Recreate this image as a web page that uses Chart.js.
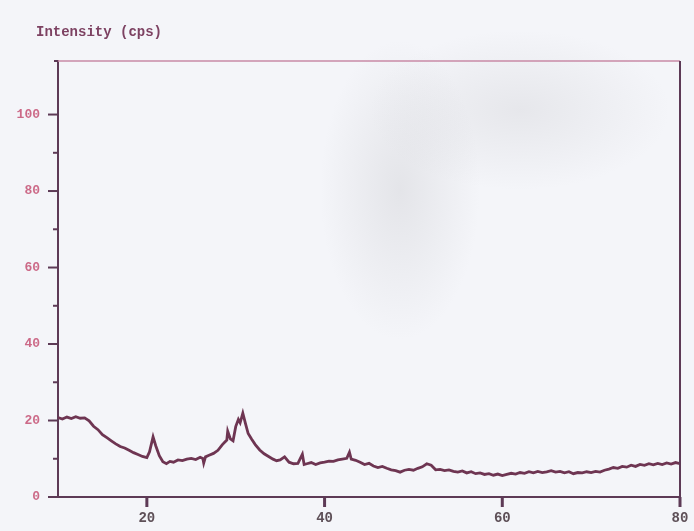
<!DOCTYPE html>
<html>
<head>
<meta charset="utf-8">
<script src="https://cdn.jsdelivr.net/npm/chart.js@4"></script>
<style>
  html, body { margin: 0; padding: 0; }
  body {
    width: 694px; height: 531px; overflow: hidden;
    background:
      radial-gradient(ellipse 80px 150px at 400px 190px, rgba(170,170,175,0.22), rgba(170,170,175,0) 100%),
      radial-gradient(ellipse 150px 80px at 520px 110px, rgba(175,175,180,0.2), rgba(175,175,180,0) 100%),
      #f4f5f9;
  }
  #wrap { position: relative; width: 694px; height: 531px; }
</style>
</head>
<body>
<div id="wrap"><canvas id="xrd" width="694" height="531"></canvas></div>
<script>
// ─── data (2θ in degrees, intensity in cps) ───
const angles = [
  10.0, 10.5, 11.0, 11.5, 12.0, 12.5, 13.0, 13.5, 14.0, 14.5,
  15.0, 15.5, 16.0, 16.5, 17.0, 17.5, 18.0, 18.5, 19.0, 19.5,
  20.0, 20.3, 20.7, 21.0, 21.4, 21.8, 22.2, 22.6, 23.0, 23.5,
  24.0, 24.5, 25.0, 25.5, 26.0, 26.3, 26.4, 26.6, 27.0, 27.5,
  28.0, 28.5, 29.0, 29.1, 29.4, 29.7, 30.0, 30.3, 30.5, 30.8,
  31.1, 31.4, 31.8, 32.2, 32.7, 33.2, 33.7, 34.2, 34.6, 35.0,
  35.5, 36.0, 36.5, 37.0, 37.5, 37.7, 38.0, 38.5, 39.0, 39.5,
  40.0, 40.5, 41.0, 41.5, 42.0, 42.5, 42.8, 43.0, 43.5, 44.0,
  44.5, 45.0, 45.5, 46.0, 46.5, 47.0, 47.5, 48.0, 48.5, 49.0,
  49.5, 50.0, 50.5, 51.0, 51.5, 52.0, 52.5, 53.0, 53.5, 54.0,
  54.5, 55.0, 55.5, 56.0, 56.5, 57.0, 57.5, 58.0, 58.5, 59.0,
  59.5, 60.0, 60.5, 61.0, 61.5, 62.0, 62.5, 63.0, 63.5, 64.0,
  64.5, 65.0, 65.5, 66.0, 66.5, 67.0, 67.5, 68.0, 68.5, 69.0,
  69.5, 70.0, 70.5, 71.0, 71.5, 72.0, 72.5, 73.0, 73.5, 74.0,
  74.5, 75.0, 75.5, 76.0, 76.5, 77.0, 77.5, 78.0, 78.5, 79.0,
  79.5, 80.0
];
const counts = [
  20.8, 20.4, 20.9, 20.5, 21.0, 20.6, 20.7, 19.9, 18.5, 17.6,
  16.3, 15.5, 14.7, 13.9, 13.2, 12.8, 12.2, 11.6, 11.1, 10.6,
  10.3, 11.8, 15.7, 13.4, 10.8, 9.2, 8.7, 9.3, 9.1, 9.7,
  9.5, 9.9, 10.1, 9.8, 10.4, 10.1, 8.9, 10.5, 10.9, 11.4,
  12.2, 13.7, 14.9, 17.2, 15.2, 14.7, 18.4, 20.3, 19.4, 21.9,
  19.2, 16.6, 15.1, 13.7, 12.3, 11.3, 10.6, 9.9, 9.5, 9.7,
  10.5, 9.1, 8.7, 8.8, 11.2, 8.5, 8.7, 9.0, 8.5, 8.9,
  9.1, 9.4, 9.3, 9.7, 9.9, 10.1, 11.7, 9.9, 9.6, 9.1,
  8.5, 8.8, 8.1, 7.7, 8.0, 7.5, 7.1, 6.9, 6.5, 7.0,
  7.2, 7.0, 7.5, 7.9, 8.7, 8.3, 7.1, 7.2, 6.9, 7.1,
  6.7, 6.5, 6.8, 6.3, 6.6, 6.1, 6.3, 5.9, 6.1, 5.7,
  6.0, 5.6, 5.9, 6.2, 6.0, 6.4, 6.2, 6.6, 6.3, 6.7,
  6.4, 6.6, 6.9, 6.5, 6.7, 6.3, 6.6, 6.1, 6.4, 6.3,
  6.6, 6.4, 6.7, 6.5, 7.0, 7.3, 7.7, 7.5, 8.0, 7.8,
  8.3, 8.0, 8.5, 8.3, 8.7, 8.4, 8.8, 8.5, 8.9, 8.6,
  9.0, 8.7
];
const xLabelTicks = [20, 40, 60, 80];
const yMinorTicks = [10, 30, 50, 70, 90];
const yMajorTicks = [0, 20, 40, 60, 80, 100];

const AXIS = '#5d3a56';
const TRACE = '#6e3552';
const PINK_TXT = '#cc6a88';

// ─── frame, ticks and title drawn against the chart's own scales ───
const framePlugin = {
    id: 'frame',
    afterDraw(chart) {
        const { ctx, chartArea: a, scales: { x, y } } = chart;
        ctx.save();
        // top border (pink) and right border (dark)
        ctx.lineWidth = 1.5;
        ctx.strokeStyle = '#c98aa6';
        ctx.beginPath();
        ctx.moveTo(a.left, a.top);
        ctx.lineTo(a.right, a.top);
        ctx.stroke();
        ctx.lineWidth = 2;
        ctx.strokeStyle = AXIS;
        ctx.beginPath();
        ctx.moveTo(a.right, a.top);
        ctx.lineTo(a.right, a.bottom);
        ctx.stroke();

        // y ticks: long ones on labelled values, short ones between
        ctx.lineWidth = 2;
        ctx.strokeStyle = AXIS;
        yMajorTicks.forEach(v => {
            const py = y.getPixelForValue(v);
            ctx.beginPath(); ctx.moveTo(a.left - 10, py); ctx.lineTo(a.left, py); ctx.stroke();
        });
        yMinorTicks.forEach(v => {
            const py = y.getPixelForValue(v);
            ctx.beginPath(); ctx.moveTo(a.left - 5, py); ctx.lineTo(a.left, py); ctx.stroke();
        });
        // little corner tick at the top left
        ctx.beginPath(); ctx.moveTo(a.left - 4, a.top); ctx.lineTo(a.left, a.top); ctx.stroke();

        // x ticks, pointing down
        ctx.lineWidth = 3;
        xLabelTicks.forEach(v => {
            const px = x.getPixelForValue(v);
            ctx.beginPath(); ctx.moveTo(px, a.bottom); ctx.lineTo(px, a.bottom + 10); ctx.stroke();
        });

        // axis title
        ctx.fillStyle = '#7d4262';
        ctx.font = 'bold 14px "Liberation Mono", "DejaVu Sans Mono", monospace';
        ctx.textBaseline = 'middle';
        ctx.fillText('Intensity (cps)', 36, 32);
        ctx.restore();
    }
};

document.addEventListener('DOMContentLoaded', () => {
    const ctx = document.getElementById('xrd').getContext('2d');
    new Chart(ctx, {
        type: 'line',
        data: {
            datasets: [{
                data: angles.map((a, i) => ({ x: a, y: counts[i] })),
                borderColor: TRACE,
                borderWidth: 2.8,
                pointRadius: 0,
                tension: 0,
                fill: false
            }]
        },
        options: {
            responsive: false,
            animation: false,
            devicePixelRatio: 1,
            layout: { padding: { top: 61, right: 14, left: 0, bottom: 0 } },
            plugins: {
                legend: { display: false },
                tooltip: { enabled: false }
            },
            scales: {
                x: {
                    type: 'linear',
                    min: 10,
                    max: 80,
                    afterFit: s => {
                        s.height = 34;
                        s.paddingLeft = 0;
                        s.paddingRight = 0;
                    },
                    afterBuildTicks: s => { s.ticks = xLabelTicks.map(v => ({ value: v })); },
                    border: { display: true, color: AXIS, width: 2 },
                    grid: { display: true, drawOnChartArea: false, drawTicks: false },
                    ticks: {
                        padding: 13,
                        color: '#5e5058',
                        font: { family: 'Liberation Mono', size: 14, weight: 'bold' },
                        maxRotation: 0
                    }
                },
                y: {
                    type: 'linear',
                    min: 0,
                    max: 114,
                    afterFit: s => {
                        s.width = 58;
                        s.paddingTop = 0;
                        s.paddingBottom = 0;
                    },
                    afterBuildTicks: s => { s.ticks = yMajorTicks.map(v => ({ value: v })); },
                    border: { display: true, color: AXIS, width: 2 },
                    grid: { display: true, drawOnChartArea: false, drawTicks: false },
                    ticks: {
                        padding: 18,
                        color: PINK_TXT,
                        font: { family: 'Liberation Mono', size: 13, weight: 'bold' }
                    }
                }
            }
        },
        plugins: [framePlugin]
    });
});
</script>
</body>
</html>
